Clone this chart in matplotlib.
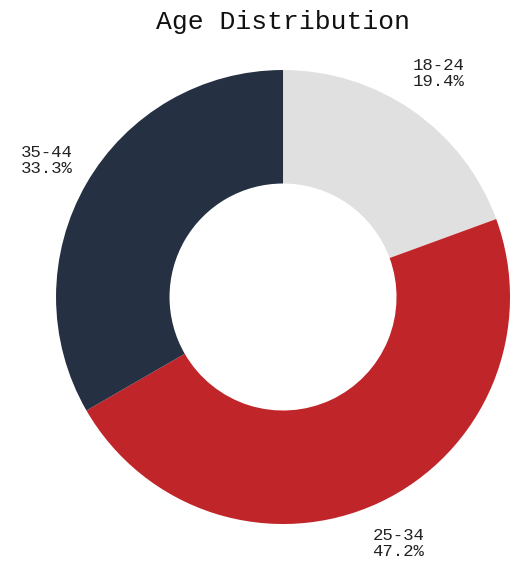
import matplotlib.pyplot as plt
import numpy as np

# age groups and their share of respondents
groups = ["18-24", "25-34", "35-44"]
shares = [19.4, 47.2, 33.3]
colors = ["#e0e0e0", "#c0252a", "#253042"]

plt.rcParams['font.family'] = ['Liberation Mono', 'DejaVu Sans Mono']

fig = plt.figure(figsize=(5.25, 5.73), dpi=100)
ax = fig.add_axes([0.1067, 0.0855, 0.8648, 0.7923])

wedges, _ = ax.pie(shares, colors=colors, startangle=90, counterclock=False,
                   radius=1.0, wedgeprops=dict(width=0.5, linewidth=0))

# labels sit outside the ring along each wedge's middle angle
for w, g, s in zip(wedges, groups, shares):
    mid = np.deg2rad((w.theta1 + w.theta2) / 2)
    x, y = 1.2 * np.cos(mid), 1.2 * np.sin(mid)
    ax.text(x, y, "%s\n%.1f%%" % (g, s), ha='center', va='center',
            multialignment='left', fontsize=12.5, color='#222222',
            linespacing=1.1)

ax.set_xlim(-1, 1)
ax.set_ylim(-1, 1)
ax.set_aspect('equal')
ax.axis('off')

fig.text(0.539, 0.962, "Age Distribution", ha='center', va='center',
         fontsize=19, color='#111111')

plt.savefig('out.png', dpi=100)
